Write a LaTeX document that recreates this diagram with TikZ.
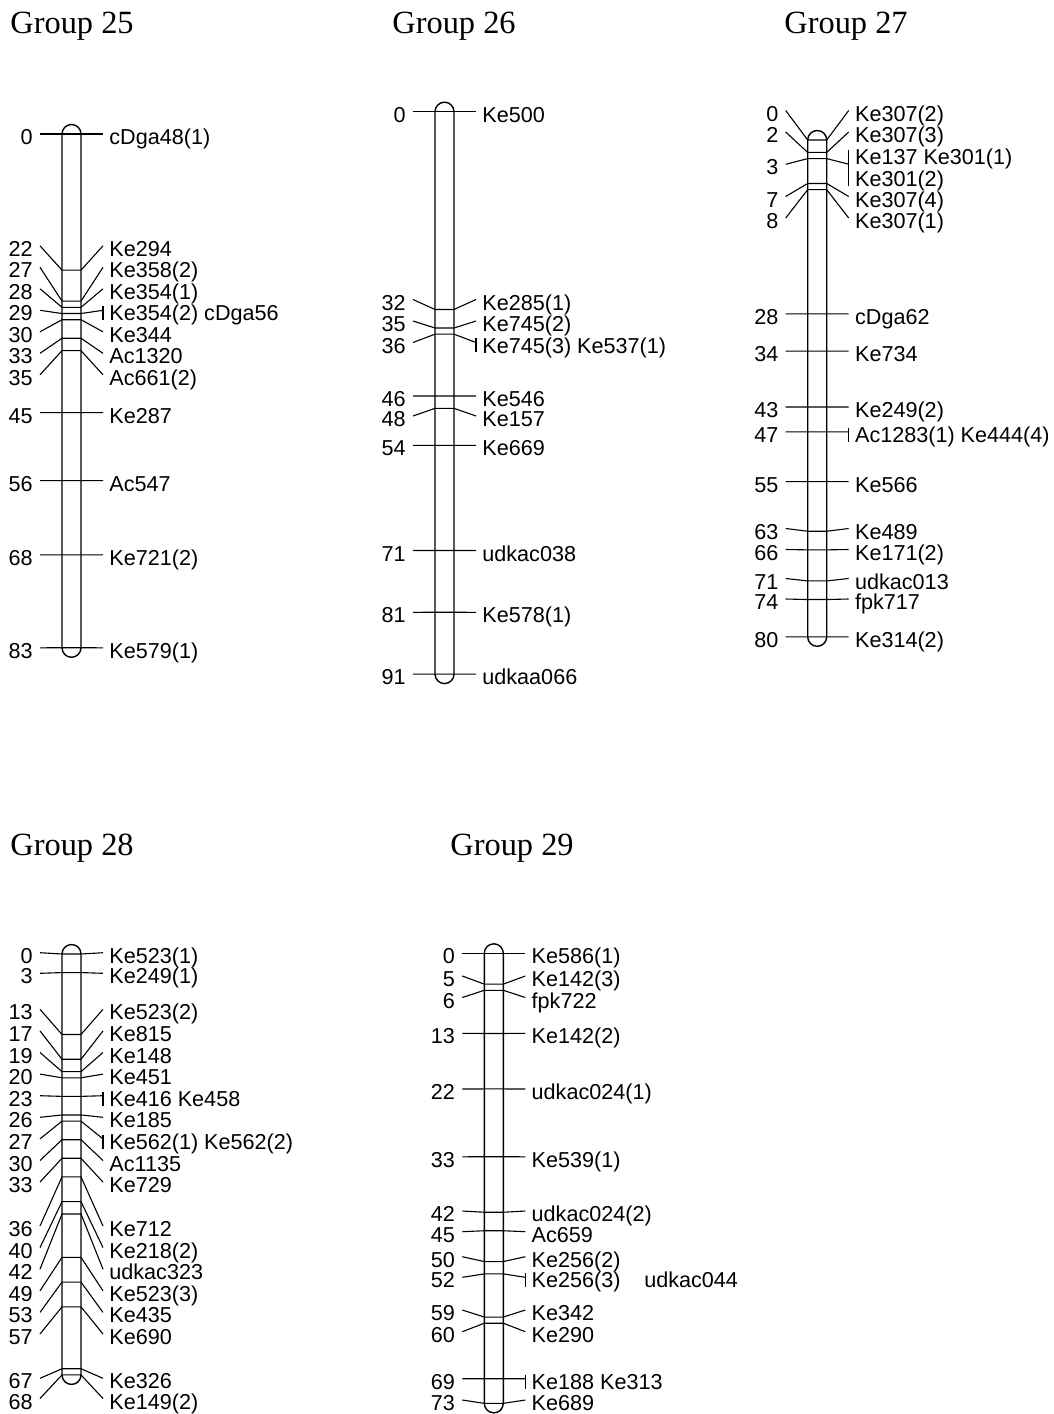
\documentclass[tikz,border=0pt]{standalone}
\usepackage{fontspec}
\setmainfont{Liberation Serif}
\setsansfont{Liberation Sans}
\usetikzlibrary{calc}
\tikzset{
  chrom/.style={draw=black,line width=0.7pt},
  tick/.style={draw=black,line width=0.55pt},
  cmlabel/.style={anchor=east,inner xsep=3.5pt,inner ysep=0pt,text height=10.5pt,
    text depth=0pt,font=\sffamily\fontsize{10.8}{10.75}\selectfont},
  mklabel/.style={anchor=west,inner xsep=3pt,inner ysep=0pt,text height=10.5pt,
    text depth=0pt,font=\sffamily\fontsize{10.8}{10.75}\selectfont},
  grouptitle/.style={anchor=base west,inner sep=0pt,font=\fontsize{16.2}{19}\selectfont}
}

% #1 group, #2 bar left x, #3 y of 0 cM, #4 px per cM, #5 length, #6 cM/label y/marker/half bar
\newcommand{\linkgroup}[6]{%
  \pgfmathsetmacro{\barl}{#2}%
  \pgfmathsetmacro{\barr}{#2+19}%
  \pgfmathsetmacro{\barend}{#3+#4*#5}%
  \draw[chrom] (\barl,#3) arc[start angle=180,end angle=0,radius=4.75pt]
    -- (\barr,\barend) arc[start angle=0,end angle=-180,radius=4.75pt] -- cycle;
  \foreach \cm/\ly/\mk/\bh [count=\i] in {#6} {
    \pgfmathsetmacro{\my}{#3+#4*\cm}
    \coordinate (b#1l\i) at (\barl,\my);
    \coordinate (b#1r\i) at (\barr,\my);
    \node[cmlabel] (p#1c\i) at (\barl-22,\ly) {\cm};
    \node[mklabel] (p#1m\i) at (\barr+22,\ly) {\mk};
    \draw[tick] (p#1c\i.east) -- (b#1l\i) -- (b#1r\i) -- (p#1m\i.west);
    \ifdim\bh pt>0pt
      \draw[tick] ([yshift=\bh pt-1.4pt]p#1m\i.west) -- ([yshift=-\bh pt-1.4pt]p#1m\i.west);
    \fi
  }%
}

\begin{document}
\begin{tikzpicture}[x=0.5pt,y=-0.5pt]
  \useasboundingbox (0,0) rectangle (1054,1414);

  \node[grouptitle] (t25) at (10,33.3) {Group 25};
  \node[grouptitle] (t26) at (392,33.3) {Group 26};
  \node[grouptitle] (t27) at (784,33.3) {Group 27};
  \node[grouptitle] (t28) at (10,855) {Group 28};
  \node[grouptitle] (t29) at (450,855) {Group 29};

  \linkgroup{25}{62}{134}{6.19}{83}{
    0/134/{cDga48(1)}/0,
    22/245.8/{Ke294}/0,
    27/267.3/{Ke358(2)}/0,
    28/288.8/{Ke354(1)}/0,
    29/310.3/{Ke354(2) cDga56}/3.5,
    30/331.8/{Ke344}/0,
    33/353.3/{Ac1320}/0,
    35/374.8/{Ac661(2)}/0,
    45/412.6/{Ke287}/0,
    56/480.6/{Ac547}/0,
    68/554.9/{Ke721(2)}/0,
    83/647.8/{Ke579(1)}/0}

  \linkgroup{26}{435}{111.7}{6.18}{91}{
    0/111.7/{Ke500}/0,
    32/299.5/{Ke285(1)}/0,
    35/321/{Ke745(2)}/0,
    36/342.5/{Ke745(3) Ke537(1)}/3.5,
    46/396/{Ke546}/0,
    48/416/{Ke157}/0,
    54/445.4/{Ke669}/0,
    71/550.5/{udkac038}/0,
    81/612.3/{Ke578(1)}/0,
    91/674.1/{udkaa066}/0}

  \linkgroup{27}{807.7}{140}{6.21}{80}{
    0/110.5/{Ke307(2)}/0,
    2/132/{Ke307(3)}/0,
    7/196.5/{Ke307(4)}/0,
    8/218/{Ke307(1)}/0,
    28/313.9/{cDga62}/0,
    34/351.1/{Ke734}/0,
    43/407/{Ke249(2)}/0,
    47/431.9/{Ac1283(1) Ke444(4)}/3.5,
    55/481.6/{Ke566}/0,
    63/528.5/{Ke489}/0,
    66/549.5/{Ke171(2)}/0,
    71/578.5/{udkac013}/0,
    74/599/{fpk717}/0,
    80/636.8/{Ke314(2)}/0}
  % two-line locus at 3 cM
  \coordinate (b27lx) at (807.7,158.6);
  \coordinate (b27rx) at (826.7,158.6);
  \node[cmlabel] (p27cx) at (785.7,164.3) {3};
  \node[mklabel,align=left,text height={},text depth={}] (p27mx) at (848.7,170)
    {Ke137 Ke301(1)\\Ke301(2)};
  \draw[tick] (p27cx.east) -- (b27lx) -- (b27rx) -- ([yshift=2.9pt]p27mx.west);
  \draw[tick] ([yshift=10.1pt]p27mx.west) -- ([yshift=-8.2pt]p27mx.west);

  \linkgroup{28}{62}{954}{6.19}{68}{
    0/952.7/{Ke523(1)}/0,
    3/973.3/{Ke249(1)}/0,
    13/1009.3/{Ke523(2)}/0,
    17/1030.9/{Ke815}/0,
    19/1052.5/{Ke148}/0,
    20/1074.1/{Ke451}/0,
    23/1095.7/{Ke416 Ke458}/3.5,
    26/1117.3/{Ke185}/0,
    27/1138.9/{Ke562(1) Ke562(2)}/3.5,
    30/1160.5/{Ac1135}/0,
    33/1182.1/{Ke729}/0,
    36/1226/{Ke712}/0,
    40/1247.6/{Ke218(2)}/0,
    42/1269.2/{udkac323}/0,
    49/1290.8/{Ke523(3)}/0,
    53/1312.4/{Ke435}/0,
    57/1334/{Ke690}/0,
    67/1378.3/{Ke326}/0,
    68/1398.5/{Ke149(2)}/0}

  \linkgroup{29}{484.3}{953.3}{6.165}{73}{
    0/953.3/{Ke586(1)}/0,
    5/976/{Ke142(3)}/0,
    6/997.5/{fpk722}/0,
    13/1033.4/{Ke142(2)}/0,
    22/1089/{udkac024(1)}/0,
    33/1156.8/{Ke539(1)}/0,
    42/1211/{udkac024(2)}/0,
    45/1231.7/{Ac659}/0,
    50/1256.7/{Ke256(2)}/0,
    52/1277.3/{Ke256(3)\hspace{1.1em}udkac044}/3.5,
    59/1310/{Ke342}/0,
    60/1331.7/{Ke290}/0,
    69/1378.7/{Ke188 Ke313}/3.5,
    73/1400/{Ke689}/0}
\end{tikzpicture}
\end{document}
